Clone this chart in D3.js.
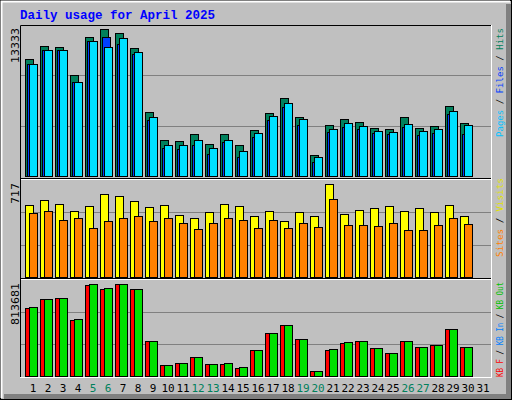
<!DOCTYPE html>
<html><head><meta charset="utf-8">
<script src="https://cdn.jsdelivr.net/npm/d3@7"></script>
<style>body{margin:0;background:#fff}</style>
</head><body>
<div id="viz"></div>
<script>
var days   = d3.range(1, 32)
  , weekend = [5, 6, 12, 13, 19, 20, 26, 27]
  ;
var hits  = [10612,11791,11700,9161,12607,13333,12970,11610,5805,3265,3175,3809,2902,3809,2812,4172,5714,7075,5351,1905,4626,5170,4898,4354,4263,5351,4354,4535,6349,4807,0];
var files = [10158,11428,11428,8526,12245,12607,11972,11065,5079,2540,2449,2812,1995,3084,1723,3537,5079,6258,4626,1270,3991,4444,4263,3900,3809,4444,3719,3900,5623,3809,0];
var pages = [10158,11428,11428,8526,12245,11700,12517,11247,5351,2812,2812,3265,2540,3265,2268,3900,5442,6621,5170,1723,4263,4807,4535,4082,3991,4716,4082,4263,5896,4626,0];
var visits = [555,594,563,509,547,640,625,586,540,555,478,455,501,563,547,470,509,432,501,470,717,486,517,532,547,509,532,501,555,470,0];
var sites  = [493,509,439,455,378,432,455,470,432,455,416,370,416,455,439,378,439,378,416,386,601,401,401,393,416,362,362,401,455,409,0];
var kbF  = [601392,680988,689832,495264,804804,769428,813681,769428,309540,97284,114972,168036,106128,106128,70752,229944,380292,451044,327228,44220,229944,291852,309540,247632,203412,309540,256476,274164,415668,256476,0];
var kbIn = [610236,680988,689832,504108,813681,778272,813681,769428,309540,97284,114972,168036,106128,114972,79596,229944,380292,451044,327228,44220,238788,300696,309540,247632,203412,309540,256476,274164,415668,256476,0];

var svg = d3.select("#viz").append("svg").attr("width", 512).attr("height", 400)
    .style("font-family", "'DejaVu Sans Mono', monospace");

svg.append("rect").attr("width", 512).attr("height", 400).attr("fill", "#c0c0c0");
svg.append("rect").attr("x", 0.5).attr("y", 0.5).attr("width", 511).attr("height", 399).attr("fill", "none").attr("stroke", "#000");
svg.append("path").attr("d", "M1.5,398V1.5H510").attr("fill", "none").attr("stroke", "#fff").attr("stroke-width", 2);
svg.append("rect").attr("x", 506).attr("y", 4).attr("width", 5).attr("height", 395).attr("fill", "#808080");
svg.append("rect").attr("x", 4).attr("y", 394).attr("width", 507).attr("height", 5).attr("fill", "#808080");

svg.append("text").attr("x", 20).attr("y", 19).attr("fill", "#0000ff")
    .style("font-family", "'Liberation Mono', monospace").style("font-weight", "bold").style("font-size", "12.5px")
    .text("Daily usage for April 2025");

var x = d3.scaleLinear().domain([1, 2]).range([25, 40]);

var panels = [
    { top: 25, base: 176, peak: 29, max: 13333, label: "13333", lgTop: 28, lgLen: 109,
      series: [ { v: hits, dx: 0, c: "#00805c" }, { v: files, dx: 2, c: "#0040ff" }, { v: pages, dx: 4, c: "#00e0ff" } ],
      legend: [ ["Pages", "#00c0ff"], [" / ", "#000"], ["Files", "#0040ff"], [" / ", "#000"], ["Hits", "#00805c"] ] },
    { top: 180, base: 277, peak: 184, max: 717, label: "717", lgTop: 178, lgLen: 79,
      series: [ { v: visits, dx: 0, c: "#ffff00" }, { v: sites, dx: 4, c: "#ff8000" } ],
      legend: [ ["Sites", "#ff8000"], [" / ", "#000"], ["Visits", "#e0e000"] ] },
    { top: 280, base: 376, peak: 284, max: 813681, label: "813681", lgTop: 282, lgLen: 95,
      series: [ { v: kbF, dx: 0, c: "#ff0000" }, { v: kbIn, dx: 4, c: "#00e000" } ],
      legend: [ ["KB F", "#ff0000"], [" / ", "#000"], ["KB In", "#0080ff"], [" / ", "#000"], ["KB Out", "#00c000"] ] }
];

svg.append("rect").attr("x", 20.5).attr("y", 25.5).attr("width", 471).attr("height", 352)
    .attr("fill", "none").attr("stroke", "#fff");
svg.append("path").attr("d", "M20.5,377V25.5H491").attr("fill", "none").attr("stroke", "#000");

panels.forEach(function(p, k) {
    var y = d3.scaleLinear().domain([0, p.max]).range([p.base, p.peak]);
    var h = p.base - p.top;
    [1, 2].forEach(function(f) {
        svg.append("line").attr("x1", 21).attr("x2", 491)
            .attr("y1", p.base - Math.round(h * f / 3) + 0.5).attr("y2", p.base - Math.round(h * f / 3) + 0.5)
            .attr("stroke", "#808080");
    });
    if (k > 0) {
        svg.append("line").attr("x1", 21).attr("x2", 491).attr("y1", p.top - 1.5).attr("y2", p.top - 1.5)
            .attr("stroke", "#000").attr("stroke-width", 1);
        svg.append("line").attr("x1", 21).attr("x2", 491).attr("y1", p.top - 0.5).attr("y2", p.top - 0.5)
            .attr("stroke", "#fff").attr("stroke-width", 1);
    }
    p.series.forEach(function(s) {
        svg.append("g").selectAll("rect")
            .data(s.v.filter(function(d) { return d > 0; }))
            .enter().append("rect")
            .attr("x", function(d, i) { return x(i + 1) + s.dx + 0.5; })
            .attr("y", function(d) { return Math.round(y(d)) + 0.5; })
            .attr("width", 8)
            .attr("height", function(d) { return p.base - Math.round(y(d)); })
            .attr("fill", s.c).attr("stroke", "#000");
    });
    svg.append("text").attr("transform", "translate(19," + (p.top + 3) + ") rotate(-90)")
        .attr("text-anchor", "end").style("font-family", "'DejaVu Sans', sans-serif").style("font-size", "11px")
        .text(p.label);
    var t = svg.append("text").attr("transform", "translate(503," + (p.lgTop + p.lgLen) + ") rotate(-90)")
        .attr("textLength", p.lgLen).attr("lengthAdjust", "spacingAndGlyphs").style("font-size", "9.5px");
    t.selectAll("tspan").data(p.legend).enter().append("tspan")
        .attr("fill", function(d) { return d[1]; }).text(function(d) { return d[0]; });
});

svg.append("g").selectAll("text").data(days).enter().append("text")
    .attr("x", function(d) { return x(d) + 8; }).attr("y", 392)
    .attr("text-anchor", "middle").style("font-size", "11px")
    .attr("fill", function(d) { return weekend.indexOf(d) >= 0 ? "#00805c" : "#000"; })
    .text(function(d) { return d; });
</script>
</body></html>
